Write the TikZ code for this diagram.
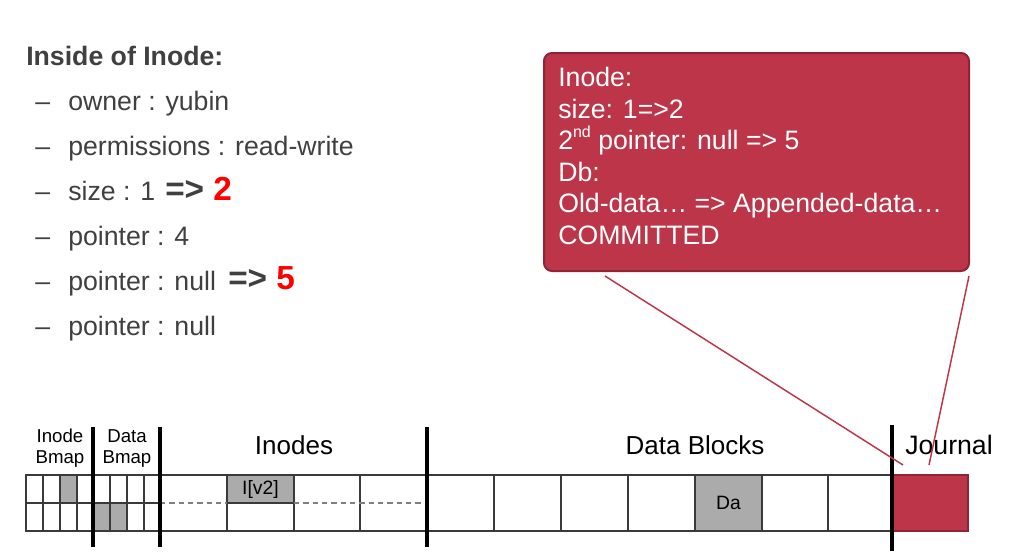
\documentclass[tikz,border=0pt]{standalone}
\usepackage{fontspec}
\setmainfont{Liberation Sans}
\usetikzlibrary{calc,fit}
\definecolor{txtgray}{HTML}{404040}
\definecolor{boxred}{HTML}{BC3549}
\definecolor{boxedge}{HTML}{8E2434}
\definecolor{cellgray}{HTML}{ABABAB}
\definecolor{linegray}{HTML}{3A3A3A}
\newcommand{\smallsup}[1]{\raisebox{0.45em}{\fontsize{12}{12}\selectfont #1}}
\tikzset{
  title/.style={anchor=base west, inner sep=0pt, text=txtgray, font=\fontsize{20}{24}\selectfont\bfseries},
  item/.style={anchor=base west, inner sep=0pt, text=txtgray, font=\fontsize{20}{24}\selectfont},
  arrowtxt/.style={anchor=base west, inner sep=0pt, text=txtgray, font=\fontsize{25}{30}\selectfont\bfseries},
  calloutbox/.style={draw=boxedge, line width=1.5pt, fill=boxred, rounded corners=6pt, inner sep=0pt},
  callouttxt/.style={anchor=north west, inner sep=0pt, text=white, align=left, font=\fontsize{20}{23.7}\selectfont},
  gridline/.style={draw=linegray, line width=1.2pt},
  dashline/.style={draw=gray, line width=1.2pt, dash pattern=on 4pt off 3pt},
  divider/.style={draw=black, line width=2.3pt},
  smalllbl/.style={anchor=base, inner sep=0pt, text=black, font=\fontsize{14}{16}\selectfont},
  biglbl/.style={anchor=base, inner sep=0pt, text=black, font=\fontsize{19.5}{22}\selectfont},
  celllbl/.style={inner sep=0pt, text=black, font=\fontsize{14.5}{16}\selectfont},
  leader/.style={draw=boxred, line width=1.1pt}
}
\begin{document}
\begin{tikzpicture}[x=0.75pt,y=-0.75pt]
\useasboundingbox[fill=white] (0,0) rectangle (1018,554);

% ---- left text ----
\node[title] (ttl) at (26,65) {Inside of Inode:};
\foreach \yy/\nm/\tx in {110/i1/{owner : yubin},155/i2/{permissions : read-write},200/i3/{size : 1},245/i4/{pointer : 4},290/i5/{pointer : null},335/i6/{pointer : null}}{
  \node[item] (d\nm) at (35,\yy) {–};
  \node[item] (\nm) at (68,\yy) {\tx};
}
\node[arrowtxt] (chg1) at (165,200) {=> \textcolor{red}{2}};
\node[arrowtxt] (chg2) at (228,289) {=> \textcolor{red}{5}};

% ---- callout ----
\path (544,53) coordinate (cbnw) (969,271) coordinate (cbse);
\node[calloutbox, fit=(cbnw)(cbse)] (callout) {};
\node[callouttxt] (callouttext) at (558,67) {Inode:\\size: 1=>2\\2\smallsup{nd} pointer: null => 5\\Db:\\Old-data… => Appended-data…\\COMMITTED};

% ---- strip: bitmaps ----
\fill[cellgray] (60,475) rectangle (77,503);
\fill[cellgray] (93,503) rectangle (127,531);
\draw[gridline] (26,475) rectangle (160,531);
\draw[gridline] (26,503) -- (160,503);
\foreach \xx in {43,60,77,110,127,144} \draw[gridline] (\xx,475) -- (\xx,531);

% ---- strip: inodes ----
\node[celllbl, fill=cellgray, minimum width=50.25pt, minimum height=21pt, draw=linegray, line width=1.2pt] (iv2) at (260.5,489) {I[v2]};
\draw[gridline] (160,475) -- (427,475) (160,531) -- (427,531);
\draw[gridline] (227,503) -- (294,503);
\foreach \xx in {227,294,360} \draw[gridline] (\xx,475) -- (\xx,531);
\draw[dashline] (160,503) -- (227,503);
\draw[dashline] (294,503) -- (427,503);

% ---- strip: data blocks ----
\draw[gridline] (427,475) -- (892,475) (427,531) -- (892,531);
\foreach \xx in {494,561,628,828} \draw[gridline] (\xx,475) -- (\xx,531);
\node[celllbl, fill=cellgray, draw=linegray, line width=1.2pt, minimum width=50.25pt, minimum height=42pt] (da) at (728.5,503) {Da};
\node[draw=linegray, line width=1.2pt, minimum width=49.5pt, minimum height=42pt, inner sep=0pt] (blk6) at (795,503) {};

% ---- journal ----
\node[draw=boxedge, line width=1.5pt, fill=boxred, inner sep=0pt, minimum width=56.25pt, minimum height=42pt] (journal) at (930.5,503) {};

% ---- dividers ----
\draw[divider] (93,427) -- (93,547);
\draw[divider] (160,427) -- (160,547);
\draw[divider] (427,427) -- (427,547);
\draw[divider] (892,425) -- (892,551);

% ---- labels ----
\node[smalllbl] (ib1) at (60,442) {Inode};
\node[smalllbl] (ib2) at (60,463) {Bmap};
\node[smalllbl] (db1) at (127,442) {Data};
\node[smalllbl] (db2) at (127,463) {Bmap};
\node[biglbl] (inodes) at (294,454) {Inodes};
\node[biglbl] (datablocks) at (695,454) {Data Blocks};
\node[anchor=base west, inner sep=0pt, font=\fontsize{20}{24}\selectfont] (jlbl) at (905,454) {Journal};

% ---- leader lines ----
\coordinate (e1) at (903,465);
\coordinate (e2) at (929,465);
\draw[leader] ($(callout.south west)+(62,4)$) -- (e1);
\draw[leader] ($(callout.south east)+(-1,4)$) -- (e2);
\end{tikzpicture}
\end{document}
